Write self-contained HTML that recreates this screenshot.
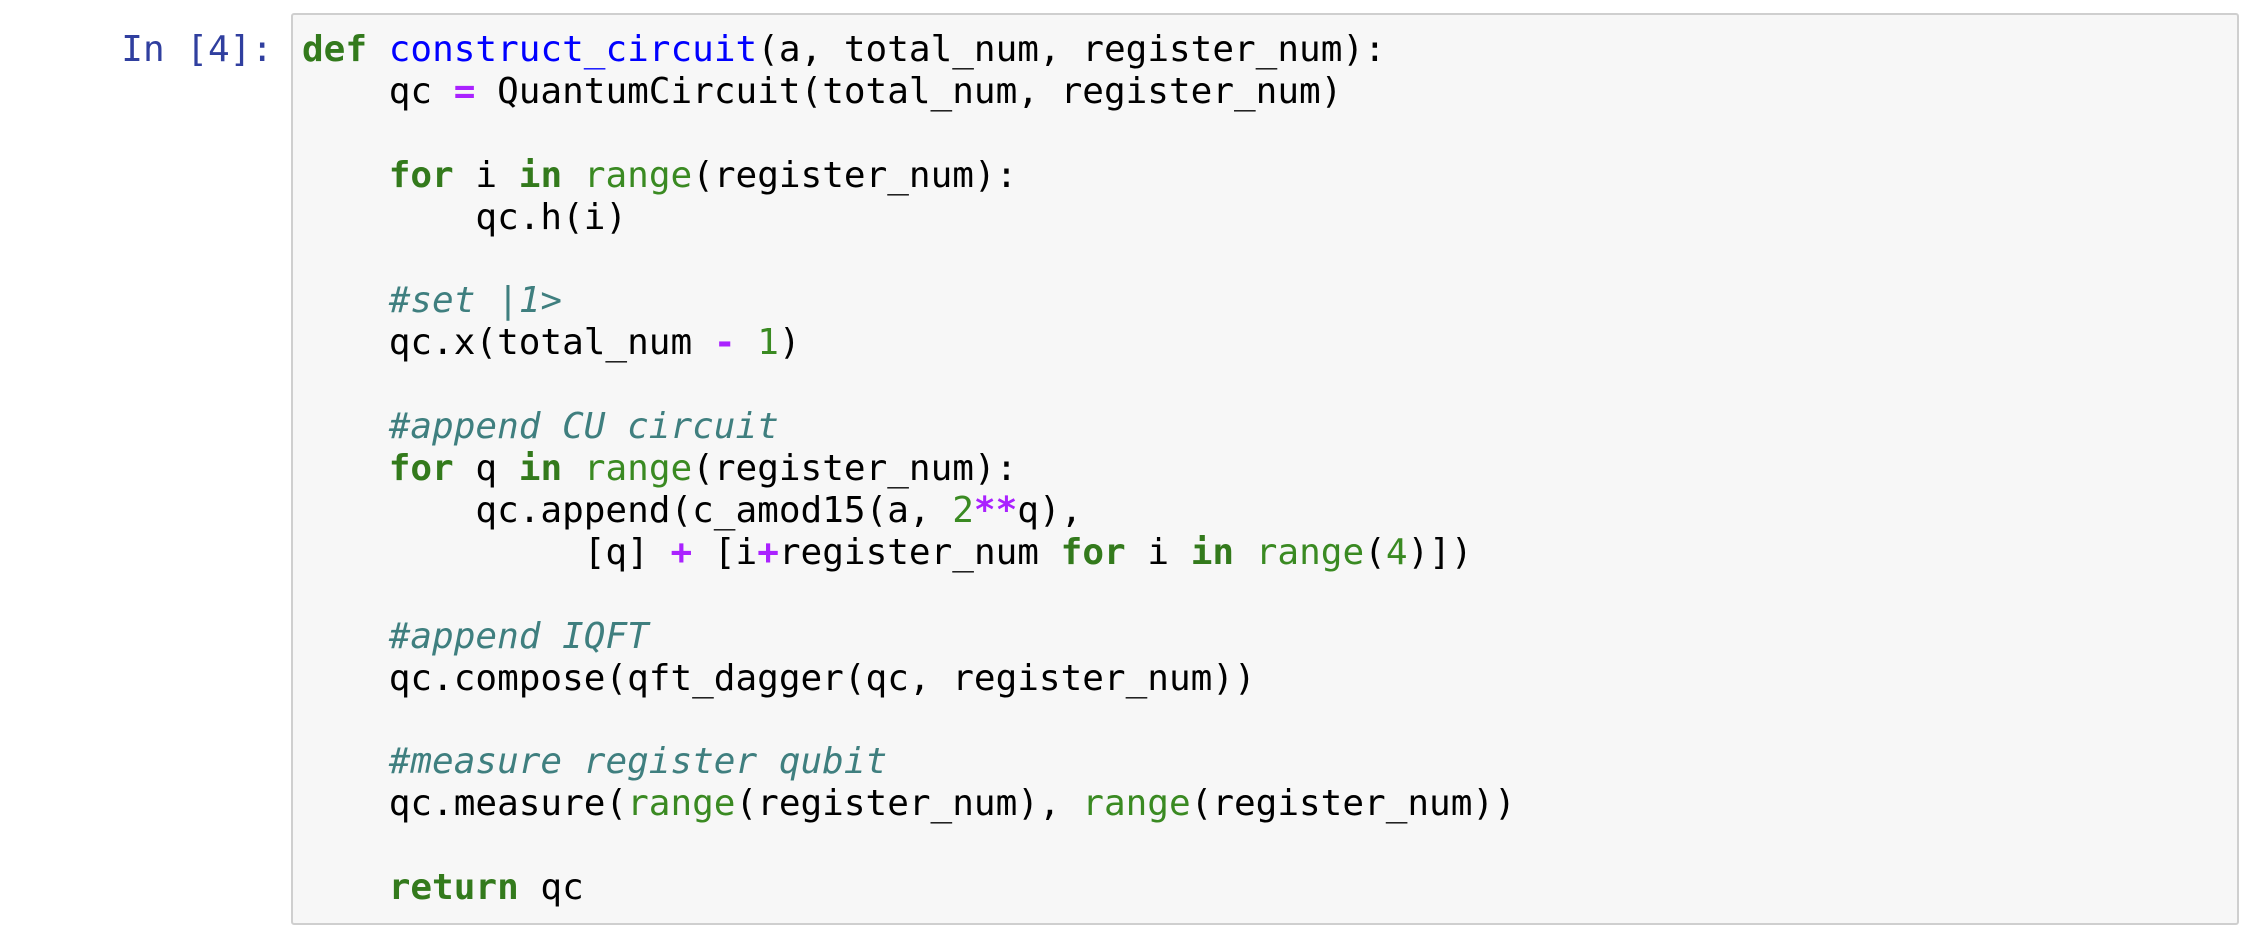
<!DOCTYPE html>
<html><head><meta charset="utf-8"><style>
html,body{margin:0;padding:0;background:#fff;width:2256px;height:942px;overflow:hidden}
.p{position:absolute;right:1983px;top:29px;font:36px/41.9px "DejaVu Sans Mono","Liberation Mono",monospace;color:#303F9F;white-space:pre}
.box{position:absolute;left:291px;top:13px;width:1948px;height:912px;background:#f7f7f7;border:2px solid #cfcfcf;border-radius:3px;box-sizing:border-box}
pre{position:absolute;left:302px;top:29px;margin:0;font:36px/41.9px "DejaVu Sans Mono","Liberation Mono",monospace;color:#000}
.k{color:#337a1c;font-weight:bold}.d{color:#0000ff}.b{color:#3a8a22}.n{color:#3a8a22}.o{color:#AA22FF;font-weight:bold}.c{color:#3f7f7f;font-style:italic}
</style></head><body>
<div class="p">In [4]:</div>
<div class="box"></div>
<pre><span class="k">def</span> <span class="d">construct_circuit</span>(a, total_num, register_num):
    qc <span class="o">=</span> QuantumCircuit(total_num, register_num)

    <span class="k">for</span> i <span class="k">in</span> <span class="b">range</span>(register_num):
        qc.h(i)

    <span class="c">#set |1&gt;</span>
    qc.x(total_num <span class="o">-</span> <span class="n">1</span>)

    <span class="c">#append CU circuit</span>
    <span class="k">for</span> q <span class="k">in</span> <span class="b">range</span>(register_num):
        qc.append(c_amod15(a, <span class="n">2</span><span class="o">**</span>q),
             [q] <span class="o">+</span> [i<span class="o">+</span>register_num <span class="k">for</span> i <span class="k">in</span> <span class="b">range</span>(<span class="n">4</span>)])

    <span class="c">#append IQFT</span>
    qc.compose(qft_dagger(qc, register_num))

    <span class="c">#measure register qubit</span>
    qc.measure(<span class="b">range</span>(register_num), <span class="b">range</span>(register_num))

    <span class="k">return</span> qc</pre>
</body></html>
